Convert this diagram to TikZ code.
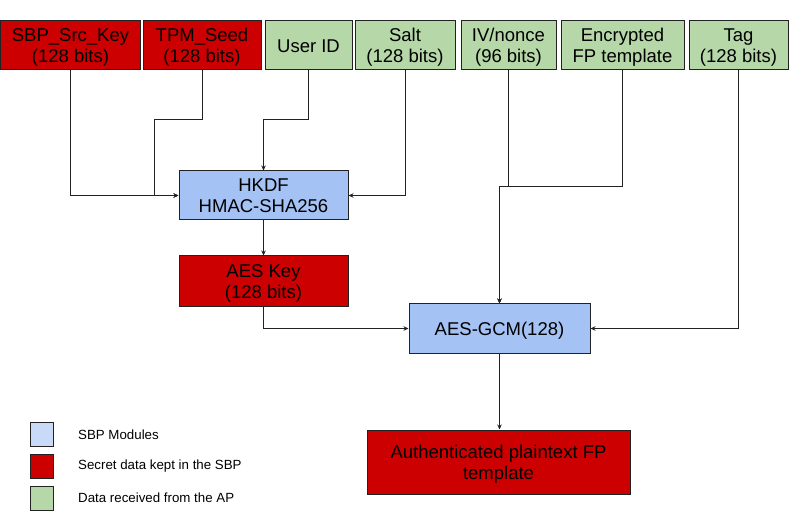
\documentclass[tikz,border=0pt]{standalone}
\usepackage{fontspec}
\setmainfont{Liberation Sans}
\usetikzlibrary{calc}
\usetikzlibrary{arrows.meta}
\definecolor{secretred}{HTML}{CC0000}
\definecolor{apgreen}{HTML}{B6D7A8}
\definecolor{sbpblue}{HTML}{A4C2F4}
\definecolor{legblue}{HTML}{C9DAF8}
\definecolor{edge}{HTML}{222222}
\tikzset{
  blockbase/.style={draw=edge, line width=1bp, align=center, inner sep=0pt,
    text height=13.3bp, text depth=0bp,
    font=\fontsize{18.5bp}{21bp}\selectfont},
  tall/.style={text height=34.3bp},
  flow/.style={draw=edge, line width=1bp, -{Stealth[length=5bp,width=4.5bp]}},
  legsq/.style={draw=edge, line width=1bp, minimum width=23bp, minimum height=24bp, inner sep=0pt},
  legtext/.style={anchor=west, inner sep=0pt, font=\fontsize{13.3bp}{15bp}\selectfont}
}
\newcommand{\dblock}[7]{\node[blockbase, fill=#6, minimum width=#4bp, minimum height=#5bp] (#1) at ( #2 , #3 ) {#7};}
\newcommand{\legitem}[4]{\node[legsq, fill=#3] (#1) at ( 41.5 , #2 ) {}; \node[legtext] (#1txt) at ( 78 , #2 ) {#4};}

\begin{document}
\begin{tikzpicture}[x=1bp, y=-1bp]
        \useasboundingbox (0,0) rectangle (793,519);

        % inputs
        \dblock{srckey}{70.5}{45.5}{139}{49}{secretred,tall}{SBP\_Src\_Key\\(128 bits)}
        \dblock{tpmseed}{202}{45.5}{118}{49}{secretred,tall}{TPM\_Seed\\(128 bits)}
        \dblock{userid}{308.5}{45.5}{87}{49}{apgreen}{User ID}
        \dblock{salt}{405}{45.5}{100}{49}{apgreen,tall}{Salt\\(128 bits)}
        \dblock{ivnonce}{508.5}{45.5}{95}{49}{apgreen,tall}{IV/nonce\\(96 bits)}
        \dblock{encfp}{622.5}{45.5}{123}{49}{apgreen,tall}{Encrypted\\FP template}
        \dblock{tag}{738.5}{45.5}{99}{49}{apgreen,tall}{Tag\\(128 bits)}

        % modules
        \dblock{hkdf}{263.5}{195.5}{169}{49}{sbpblue,tall}{HKDF\\HMAC-SHA256}
        \dblock{aeskey}{263.5}{281}{169}{50}{secretred,tall}{AES Key\\(128 bits)}
        \dblock{aesgcm}{499.5}{328.5}{181}{49}{sbpblue}{AES-GCM(128)}
        \dblock{plainfp}{498.5}{462}{263}{64}{secretred,tall}{Authenticated plaintext FP\\template}

        % bends
        \coordinate (tpmbend) at (154,120);
        \coordinate (uidbend) at (263.5,120);
        \coordinate (gcmbend) at (499.5,187);

        % arrows
        \draw[flow] (srckey.south) |- (hkdf.west);
        \draw[flow] (tpmseed.south) |- (tpmbend) |- (hkdf.west);
        \draw[flow] (userid.south) |- (uidbend) -- (hkdf.north);
        \draw[flow] (salt.south) |- (hkdf.east);
        \draw[flow] (hkdf.south) -- (aeskey.north);
        \draw[flow] (ivnonce.south) |- (gcmbend) -- (aesgcm.north);
        \draw[flow] (encfp.south) |- (gcmbend) -- (aesgcm.north);
        \draw[flow] (tag.south) |- (aesgcm.east);
        \draw[flow] (aeskey.south) |- (aesgcm.west);
        \draw[flow] (aesgcm.south) -- (aesgcm.south |- plainfp.north);

        % legend
        \legitem{legmod}{434.5}{legblue}{SBP Modules}
        \legitem{legsec}{466}{secretred}{Secret data kept in the SBP}
        \legitem{legap}{498}{apgreen}{Data received from the AP}

\end{tikzpicture}
\end{document}
